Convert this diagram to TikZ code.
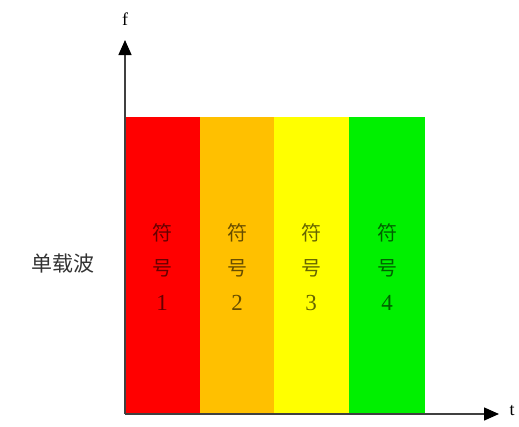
\documentclass[tikz,border=0pt]{standalone}
\usepackage{fontspec}
\newfontfamily\cjk{Noto Sans CJK SC}
\setmainfont{Liberation Serif}
\usetikzlibrary{arrows.meta}
\definecolor{cred}{HTML}{FF0000}
\definecolor{corange}{HTML}{FFC000}
\definecolor{cyellow}{HTML}{FFFF00}
\definecolor{cgreen}{HTML}{00F000}
\begin{document}
\begin{tikzpicture}[x=1pt,y=-1pt,
  sym/.style={align=center,font=\cjk\fontsize{20}{35}\selectfont,text=black,text opacity=0.6},
  axis/.style={line width=1.4pt,draw=black!75,-{Triangle[length=15pt,width=13pt,fill=black,color=black]}}]
\useasboundingbox (0,0) rectangle (519,426);
\fill[cred] (125,117) rectangle (200,414);
\fill[corange] (200,117) rectangle (274,414);
\fill[cyellow] (274,117) rectangle (349,414);
\fill[cgreen] (349,117) rectangle (425,414);
\node[sym] (s1) at (162,267) {符\\号\\{\fontspec{Liberation Serif}\fontsize{23}{35}\selectfont 1}};
\node[sym] (s2) at (237,267) {符\\号\\{\fontspec{Liberation Serif}\fontsize{23}{35}\selectfont 2}};
\node[sym] (s3) at (311,267) {符\\号\\{\fontspec{Liberation Serif}\fontsize{23}{35}\selectfont 3}};
\node[sym] (s4) at (387,267) {符\\号\\{\fontspec{Liberation Serif}\fontsize{23}{35}\selectfont 4}};
\coordinate (o) at (125,414);
\coordinate (ftip) at (125,40);
\coordinate (ttip) at (499,414);
\draw[axis] (o) -- (ftip);
\draw[axis] (o) -- (ttip);
\node[font=\fontsize{18}{20}\selectfont] (f) at (125,19) {f};
\node[font=\fontsize{18}{20}\selectfont] (t) at (512,411) {t};
\node[font=\cjk\fontsize{21}{24}\selectfont,text=black!80] (lbl) at (63,264) {单载波};
\end{tikzpicture}
\end{document}
